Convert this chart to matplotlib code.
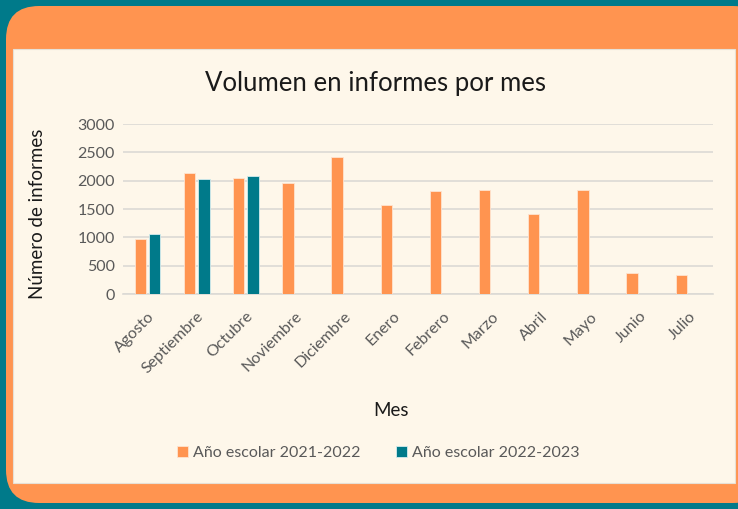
import numpy as np
import matplotlib.pyplot as plt
from matplotlib.patches import FancyBboxPatch, Rectangle

# Datos
meses = ["Agosto", "Septiembre", "Octubre", "Noviembre", "Diciembre", "Enero",
         "Febrero", "Marzo", "Abril", "Mayo", "Junio", "Julio"]
serie_2122 = [965, 2140, 2040, 1965, 2425, 1578, 1818, 1830, 1412, 1830, 365, 342]
serie_2223 = [1060, 2025, 2082]
etiquetas = ["Año escolar 2021-2022", "Año escolar 2022-2023"]

naranja = "#FF9450"
azul = "#007A8A"
crema = "#FEF7EA"
gris = "#595959"

plt.rcParams['font.family'] = ['Lato', 'DejaVu Sans']

W, H = 738, 509
fig = plt.figure(figsize=(W / 100, H / 100), dpi=100, facecolor=azul)

# Marco naranja redondeado y panel crema
fig.patches.append(FancyBboxPatch((6 / W, 6 / H), 760 / W, 497 / H,
                                  boxstyle="round,pad=0,rounding_size=0.045",
                                  transform=fig.transFigure, facecolor=naranja,
                                  edgecolor="none", mutation_aspect=W / H, zorder=-2))
fig.patches.append(Rectangle((13 / W, 1 - 483 / H), 722 / W, (483 - 49) / H,
                             transform=fig.transFigure, facecolor=crema,
                             edgecolor="#E6E0D6", linewidth=0.8, zorder=-1))

ax = fig.add_axes([123 / W, 1 - 294 / H, 590 / W, 170 / H])
ax.set_facecolor("none")
ax.set_zorder(2)

x = np.arange(len(meses))
w = 0.23
ax.bar(x - w / 2 - 0.03, serie_2122, w, color=naranja, edgecolor="#FFE3CF",
       linewidth=0.6, label=etiquetas[0], zorder=3)
ax.bar(x[:len(serie_2223)] + w / 2 + 0.03, serie_2223, w, color=azul,
       edgecolor="#D5ECEE", linewidth=0.6, label=etiquetas[1], zorder=3)

ax.set_xlim(-0.5, len(meses) - 0.5)
ax.set_ylim(0, 3000)
ax.set_yticks(range(0, 3001, 500))
ax.grid(True, axis="y", color="#DCDAD5", linewidth=1.2, zorder=0)
for s in ["top", "right", "left"]:
    ax.spines[s].set_visible(False)
ax.spines["bottom"].set_color("#DCDAD5")
ax.spines["bottom"].set_linewidth(1.2)
ax.tick_params(length=0, colors=gris, labelsize=11.5, pad=6)
ax.tick_params(axis="x", pad=11)
ax.set_xticks(x)
ax.set_xticklabels(meses, rotation=45, ha="right", rotation_mode="anchor")

fig.text(375 / W, 1 - 83 / H, "Volumen en informes por mes", ha="center",
         va="center", fontsize=18.5, color="#1A1A1A")
fig.text(38 / W, 1 - 214 / H, "Número de informes", ha="center", va="center",
         rotation=90, fontsize=13.5, color="#1A1A1A")
fig.text(391 / W, 1 - 410 / H, "Mes", ha="center", va="center",
         fontsize=13.5, color="#1A1A1A")

leg = fig.legend(loc="center", bbox_to_anchor=(378 / W, 1 - 453 / H), ncol=2,
                 frameon=False, fontsize=11.5, handlelength=0.7,
                 handleheight=0.7, handletextpad=0.3, columnspacing=2.2)
for t in leg.get_texts():
    t.set_color(gris)

fig.savefig("out.png", dpi=100, facecolor=azul)
